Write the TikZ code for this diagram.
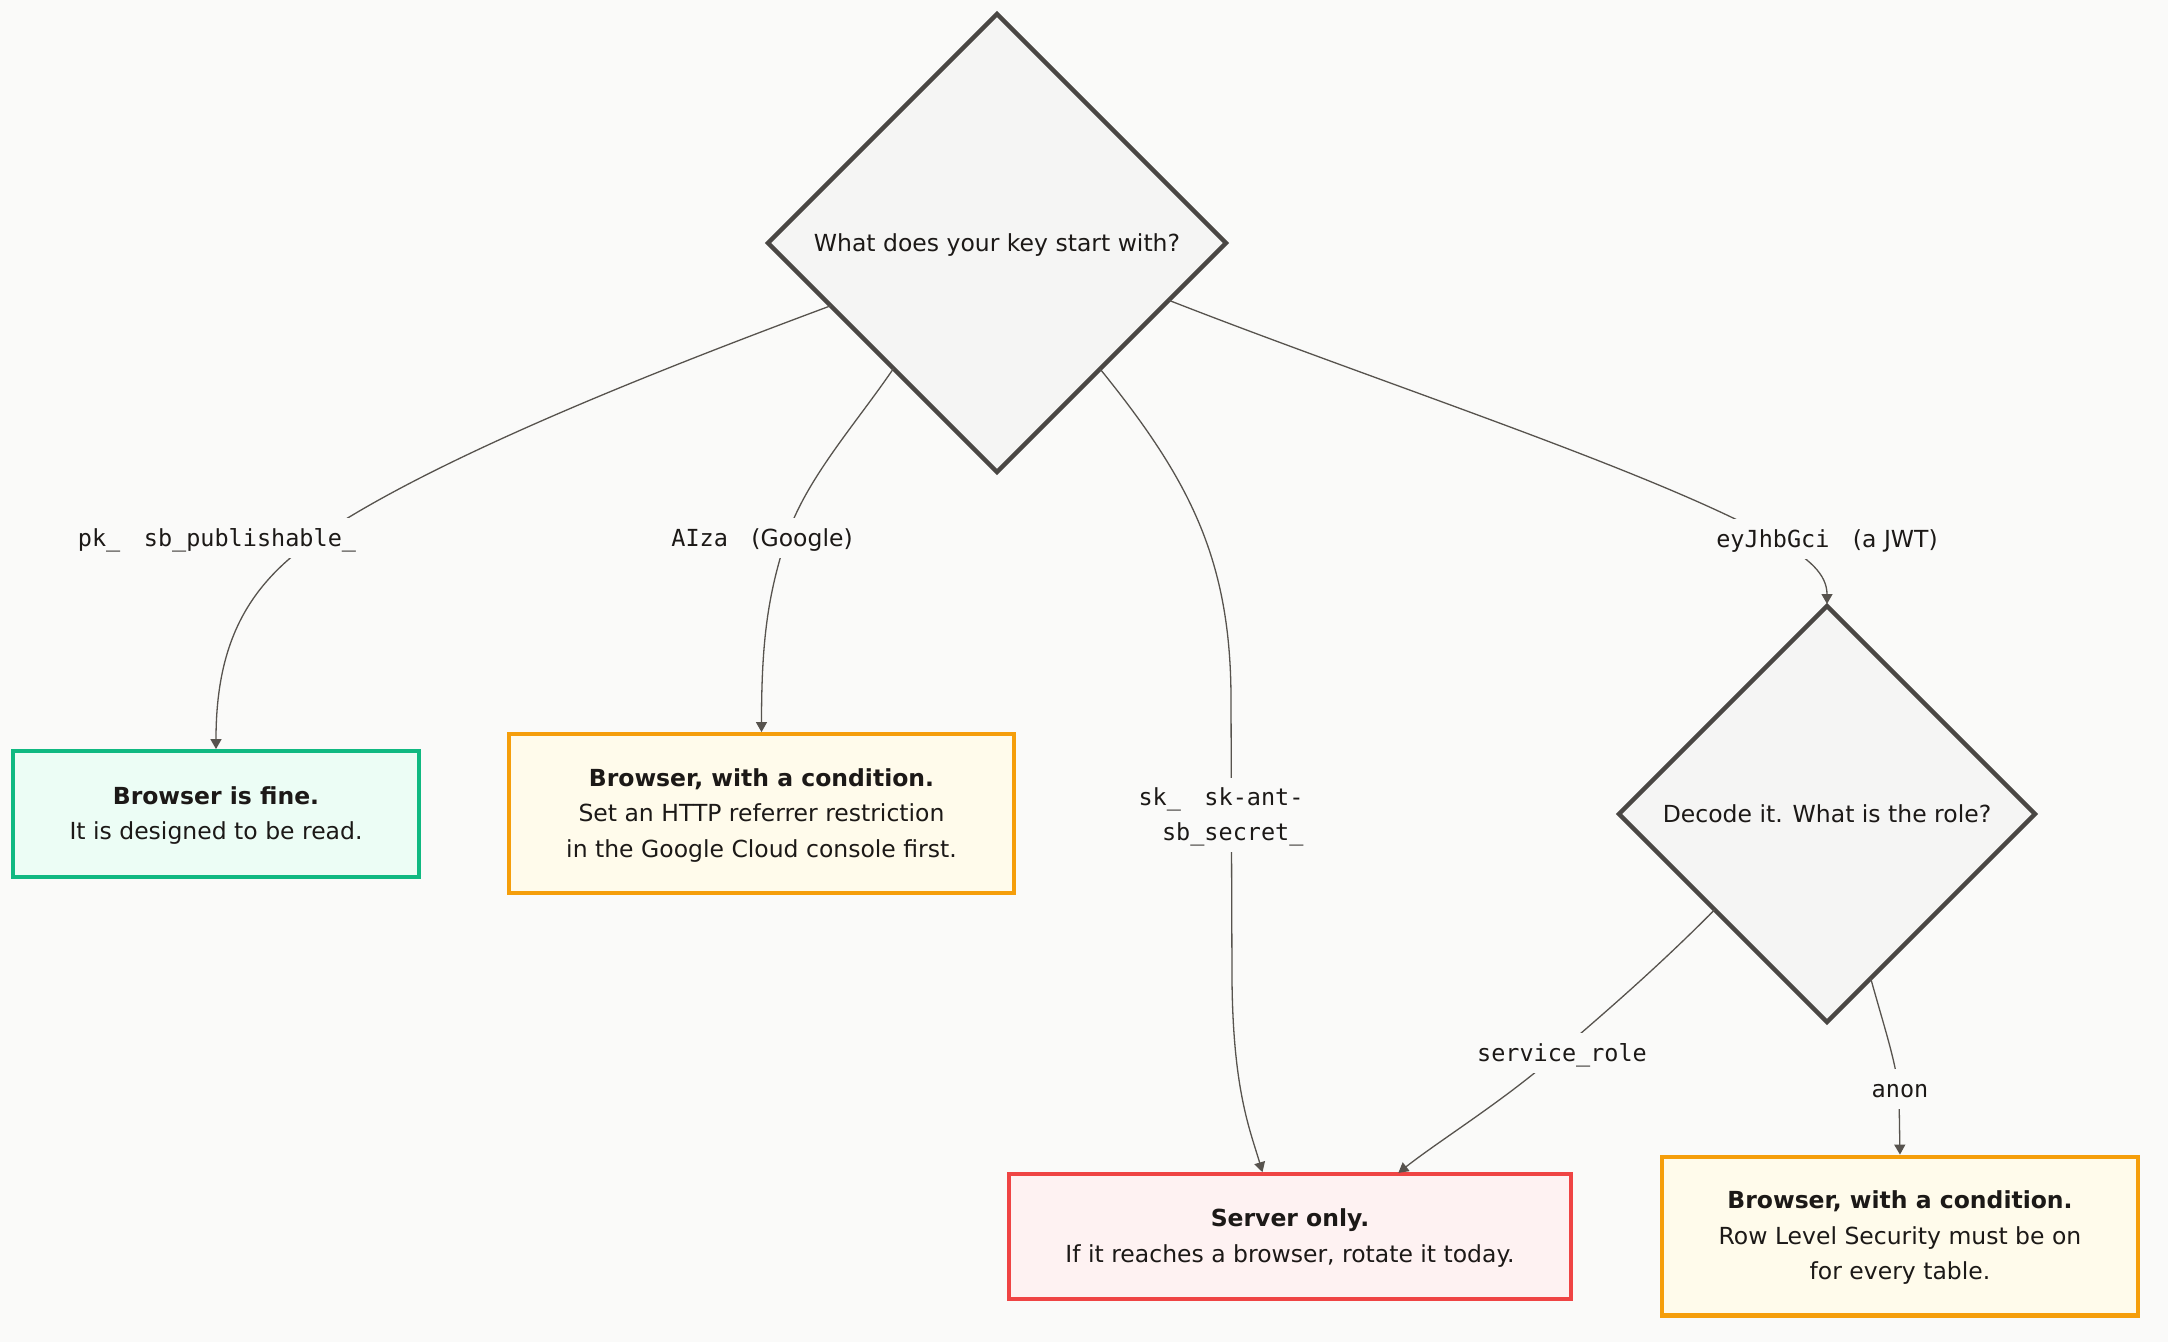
\documentclass[tikz,border=0pt]{standalone}
\usepackage{fontspec}
\setmainfont{DejaVu Sans}
\newfontfamily\codefont{DejaVu Sans Mono}
\usetikzlibrary{shapes.geometric,arrows.meta,calc}
\definecolor{bgc}{HTML}{FAFAF9}
\definecolor{ink}{HTML}{1C1917}
\definecolor{edgec}{HTML}{57534E}
\definecolor{dstroke}{HTML}{4A4744}
\definecolor{dfill}{HTML}{F5F5F4}
\definecolor{okstroke}{HTML}{10B981}
\definecolor{okfill}{HTML}{ECFDF5}
\definecolor{condstroke}{HTML}{F59E0B}
\definecolor{condfill}{HTML}{FFFBEB}
\definecolor{srvstroke}{HTML}{EF4444}
\definecolor{srvfill}{HTML}{FEF2F2}
\newcommand\emstrut{\rule[-0.236em]{0pt}{1.164em}}
\begin{document}
\begin{tikzpicture}[x=0.5pt,y=-0.5pt,
  every node/.style={text=ink, font=\fontsize{11.75}{17.75}\selectfont},
  decision/.style={diamond, shape aspect=1, draw=dstroke, fill=dfill, line width=2.2pt, inner sep=0pt, outer sep=0pt},
  box/.style={rectangle, line width=2.1pt, inner sep=0pt, outer sep=0pt, align=center},
  okbox/.style={box, draw=okstroke, fill=okfill},
  condbox/.style={box, draw=condstroke, fill=condfill},
  srvbox/.style={box, draw=srvstroke, fill=srvfill},
  edge/.style={draw=edgec, line width=0.65pt, shorten >=1pt, -{Triangle[length=5pt,width=5.5pt]}},
  elabel/.style={fill=bgc, inner sep=3pt, align=right}
]
\fill[bgc] (0,0) rectangle (2168,1342);
\useasboundingbox (0,0) rectangle (2168,1342);

% nodes
\node[decision, minimum width=229pt, minimum height=229pt] (q1) at (997,243) {\emstrut What does your key start with?};
\node[decision, minimum width=208pt, minimum height=208pt] (q2) at (1827,814) {\emstrut Decode it. What is the role?};
\node[okbox, minimum width=202.9pt, minimum height=62.9pt] (ok) at (216,814)
  {\emstrut{\bfseries Browser is fine.}\\It is designed to be read.\emstrut};
\node[condbox, minimum width=252.4pt, minimum height=79.4pt] (c1) at (761.5,813.5)
  {\emstrut{\bfseries Browser, with a condition.}\\Set an HTTP referrer restriction\\in the Google Cloud console first.\emstrut};
\node[srvbox, minimum width=280.9pt, minimum height=62.4pt] (srv) at (1290,1236.5)
  {\emstrut{\bfseries Server only.}\\If it reaches a browser, rotate it today.\emstrut};
\node[condbox, minimum width=237.9pt, minimum height=79.4pt] (c2) at (1900,1236)
  {\emstrut{\bfseries Browser, with a condition.}\\Row Level Security must be on\\for every table.\emstrut};

% connector end points on the shapes
\coordinate (s1) at ($(q1.west)!0.274!(q1.south)$);
\coordinate (s2) at ($(q1.west)!0.548!(q1.south)$);
\coordinate (s3) at ($(q1.south)!0.45!(q1.east)$);
\coordinate (s4) at ($(q1.south)!0.75!(q1.east)$);
\coordinate (s5) at ($(q2.west)!0.46!(q2.south)$);
\coordinate (s6) at ($(q2.south)!0.21!(q2.east)$);
\coordinate (t3) at ($(srv.north west)!0.452!(srv.north east)$);
\coordinate (t5) at ($(srv.north west)!0.69!(srv.north east)$);

% connectors
\draw[edge] (s1) .. controls (650,373) and (430,460) .. (315,539)
  .. controls (250,584) and (216,640) .. (ok.north);
\draw[edge] (s2) .. controls (855,425) and (805,480) .. (786,539)
  .. controls (768,595) and (761.5,640) .. (c1.north);
\draw[edge] (s3) .. controls (1190,480) and (1231,560) .. (1231,700)
  -- (1232,980) .. controls (1233,1090) and (1250,1130) .. (t3);
\draw[edge] (s4) .. controls (1380,383) and (1650,470) .. (1774,539)
  .. controls (1810,558) and (1827,575) .. (q2.north);
\draw[edge] (s5) .. controls (1650,975) and (1590,1025) .. (1557,1054)
  .. controls (1505,1100) and (1440,1140) .. (t5);
\draw[edge] (s6) .. controls (1885,1030) and (1897,1065) .. (1899,1095)
  -- (c2.north);

% connector labels
\node[elabel] (l1) at (217,538) {\emstrut{\codefont pk\_}\hspace{1em}{\codefont sb\_publishable\_}};
\node[elabel] (l2) at (762,538) {\emstrut{\codefont AIza}\hspace{1em}(Google)};
\node[elabel] (l3) at (1221,815) {\emstrut{\codefont sk\_}\hspace{1em}{\codefont sk-ant-}\\{\codefont sb\_secret\_}\emstrut};
\node[elabel] (l4) at (1827,539) {\emstrut{\codefont eyJhbGci}\hspace{1em}(a JWT)};
\node[elabel] (l5) at (1562,1053) {\emstrut{\codefont service\_role}};
\node[elabel] (l6) at (1900,1089) {\emstrut{\codefont anon}};
\end{tikzpicture}
\end{document}
